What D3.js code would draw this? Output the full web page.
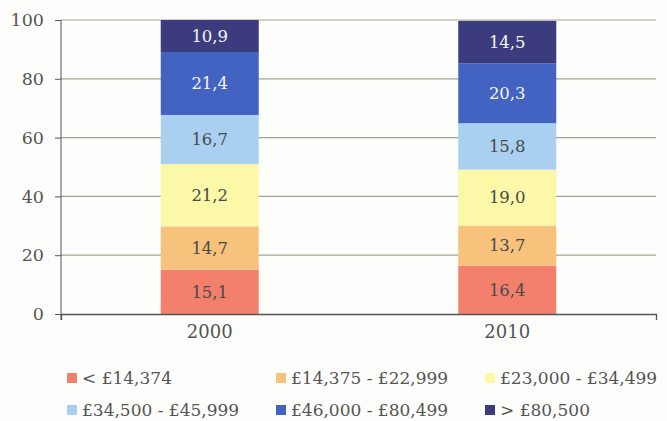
<!DOCTYPE html>
<html>
<head>
<meta charset="utf-8">
<script src="https://cdn.jsdelivr.net/npm/d3@7"></script>
<style>
  body { margin: 0; background: #fdfdfb; }
  text { font-family: "DejaVu Serif", serif; }
</style>
</head>
<body>
<div id="chart"></div>
<script>
// chart data
const years = ["2000", "2010"];
const bands = ["< £14,374", "£14,375 - £22,999", "£23,000 - £34,499",
               "£34,500 - £45,999", "£46,000 - £80,499", "> £80,500"];
const values2000 = [15.1, 14.7, 21.2, 16.7, 21.4, 10.9];
const values2010 = [16.4, 13.7, 19.0, 15.8, 20.3, 14.5];
const yTicks = [0, 20, 40, 60, 80, 100];
const colors = ["#f2806c", "#f6c27c", "#fbf8a8", "#a9cff1", "#4363c2", "#3b3b7e"];
const labelColors = ["#4a4a4a", "#4a4a4a", "#4a4a4a", "#4a4a4a", "#f4f4f8", "#f4f4f8"];

const width = 667, height = 421;
const margin = { top: 20, right: 11, bottom: 107, left: 61 };
const w = width - margin.left - margin.right;
const h = height - margin.top - margin.bottom;
const fontFam = "DejaVu Serif, serif";

// build rows for the stack
const rows = years.map((yr, i) => {
  const vals = i === 0 ? values2000 : values2010;
  const r = { year: yr };
  bands.forEach((b, j) => r[b] = vals[j]);
  return r;
});
const series = d3.stack().keys(bands)(rows);

const svg = d3.select("#chart").append("svg")
  .attr("width", width)
  .attr("height", height);

const g = svg.append("g")
  .attr("transform", `translate(${margin.left},${margin.top})`);

const x = d3.scaleBand().domain(years).range([0, w]).padding(0);
const y = d3.scaleLinear().domain([0, 100]).range([h, 0]);
const barW = 98;

// gridlines
g.selectAll(".grid")
  .data(yTicks.filter(d => d > 0))
  .enter().append("line")
  .attr("x1", 0).attr("x2", w)
  .attr("y1", d => y(d)).attr("y2", d => y(d))
  .attr("stroke", "#a3a394").attr("stroke-width", 1.2);

// bars
const layer = g.selectAll(".layer")
  .data(series)
  .enter().append("g")
  .attr("fill", (d, i) => colors[i]);

layer.selectAll("rect")
  .data(d => d)
  .enter().append("rect")
  .attr("x", d => x(d.data.year) + x.bandwidth() / 2 - barW / 2)
  .attr("y", d => y(d[1]))
  .attr("width", barW)
  .attr("height", d => y(d[0]) - y(d[1]));

// value labels
series.forEach((s, i) => {
  g.selectAll(".lbl" + i)
    .data(s)
    .enter().append("text")
    .attr("x", d => x(d.data.year) + x.bandwidth() / 2)
    .attr("y", d => (y(d[0]) + y(d[1])) / 2)
    .attr("dy", "0.35em")
    .attr("text-anchor", "middle")
    .attr("font-size", 16.5)
    .attr("fill", labelColors[i])
    .text(d => d3.format(".1f")(d.data[s.key]).replace(".", ","));
});

// y axis
const yAxis = g.append("g")
  .call(d3.axisLeft(y).tickValues(yTicks).tickSize(6).tickSizeOuter(0).tickPadding(11));
yAxis.select(".domain").attr("stroke", "#555").attr("d", `M0,${h + 6}V0`);
yAxis.selectAll(".tick line").attr("stroke", "#555");
yAxis.selectAll("text").attr("font-size", 17.5).attr("fill", "#555")
  .style("font-family", fontFam);

// x axis
const xAxis = g.append("g")
  .attr("transform", `translate(0,${h})`)
  .call(d3.axisBottom(x).tickSize(0).tickSizeOuter(6).tickPadding(11));
xAxis.select(".domain").attr("stroke", "#555").attr("stroke-width", 1.3);
xAxis.selectAll("text").attr("font-size", 18).attr("fill", "#555")
  .style("font-family", fontFam);

// legend
const legendX = [67, 276, 485];
const legendY = [378, 410];
const legend = svg.selectAll(".legend")
  .data(bands)
  .enter().append("g")
  .attr("transform", (d, i) => `translate(${legendX[i % 3]},${legendY[Math.floor(i / 3)]})`);
legend.append("rect")
  .attr("x", 0).attr("y", -5)
  .attr("width", 10).attr("height", 10)
  .attr("fill", (d, i) => colors[i]);
legend.append("text")
  .attr("x", 15).attr("y", 0)
  .attr("dy", "0.35em")
  .attr("font-size", 17)
  .attr("fill", "#555")
  .text(d => d);
</script>
</body>
</html>
